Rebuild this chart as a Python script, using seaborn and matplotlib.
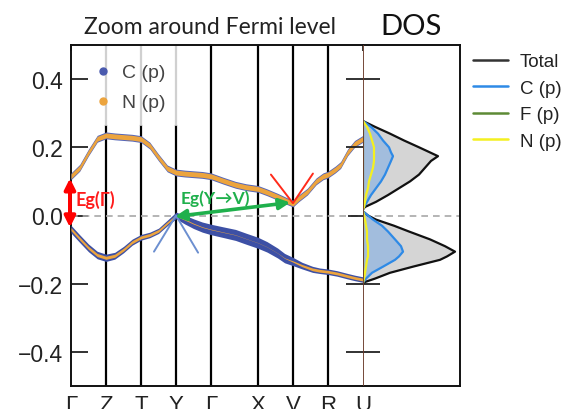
import matplotlib
matplotlib.use("Agg")
import matplotlib.pyplot as plt
import numpy as np
import pandas as pd
import seaborn as sns
from matplotlib.lines import Line2D

sns.set_theme(style="white")
plt.rcParams['font.family'] = ['Liberation Sans', 'DejaVu Sans']

# high-symmetry path
kpath_labels = ["Γ", "Z", "T", "Y", "Γ", "X", "V", "R", "U"]
kpath_pos = [0, 1, 2, 3, 4, 5.34, 6.34, 7.34, 8.34]

# conduction band (eV) and orbital projections
cb_k = [0, 0.25, 0.5, 0.75, 1.0, 1.25, 1.5, 1.75, 2.0, 2.25, 2.5, 2.75, 3.0,
        3.25, 3.5, 3.75, 4.0, 4.35, 4.7, 5.0, 5.34, 5.6, 5.9, 6.15, 6.34,
        6.5, 6.75, 7.0, 7.2, 7.34, 7.55, 7.7, 7.9, 8.1, 8.34]
cb_e = [0.115, 0.14, 0.185, 0.225, 0.235, 0.232, 0.23, 0.228, 0.224, 0.205,
        0.17, 0.138, 0.126, 0.123, 0.121, 0.119, 0.115, 0.102, 0.09, 0.083,
        0.078, 0.068, 0.055, 0.043, 0.035, 0.05, 0.07, 0.1, 0.115, 0.12,
        0.135, 0.148, 0.185, 0.21, 0.225]
cb_c = [0.62] * len(cb_k)
cb_n = [0.44] * len(cb_k)

# valence band (eV) and orbital projections
vb_k = [0, 0.25, 0.5, 0.75, 1.0, 1.25, 1.5, 1.75, 2.0, 2.25, 2.5, 2.75, 3.0,
        3.25, 3.5, 3.75, 4.0, 4.35, 4.7, 5.0, 5.34, 5.6, 5.9, 6.1, 6.34,
        6.6, 6.9, 7.1, 7.34, 7.6, 7.9, 8.1, 8.34]
vb_e = [-0.04, -0.068, -0.095, -0.116, -0.124, -0.118, -0.1, -0.078, -0.064,
        -0.057, -0.045, -0.022, 0.0, -0.012, -0.024, -0.034, -0.041, -0.049,
        -0.057, -0.068, -0.08, -0.092, -0.11, -0.125, -0.135, -0.147, -0.158,
        -0.162, -0.165, -0.17, -0.178, -0.183, -0.188]
vb_c = [0.7, 0.7, 0.7, 0.68, 0.66, 0.62, 0.58, 0.55, 0.52, 0.5, 0.48, 0.5,
        0.6, 0.8, 0.88, 0.92, 0.95, 0.97, 1.0, 1.0, 1.0, 0.95, 0.9, 0.85,
        0.75, 0.6, 0.55, 0.5, 0.5, 0.5, 0.5, 0.5, 0.5]
vb_n = [0.28, 0.28, 0.28, 0.28, 0.28, 0.28, 0.27, 0.27, 0.26, 0.26, 0.25,
        0.22, 0.15, 0.1, 0.08, 0.06, 0.05, 0.04, 0.03, 0.02, 0.02, 0.02,
        0.02, 0.05, 0.12, 0.2, 0.25, 0.25, 0.25, 0.25, 0.25, 0.25, 0.25]

# density of states, lobe above and below the gap
dos_e_up = [0.277, 0.26, 0.24, 0.22, 0.20, 0.185, 0.174, 0.16, 0.14, 0.12,
            0.10, 0.08, 0.06, 0.04, 0.025, 0.018]
dos_tot_up = [0, 12, 27, 41, 56, 67, 75, 68, 62, 56, 47, 36, 25, 13, 2, 0]
dos_c_up = [0, 8, 15, 20, 26, 28, 30, 28, 25, 22, 18, 13, 8, 4, 1, 0]
dos_n_up = [0, 4, 7, 9, 11, 11, 11, 11, 10, 8, 6, 5, 3, 2, 1, 0]
dos_e_dn = [0.012, 0.0, -0.012, -0.03, -0.047, -0.07, -0.09, -0.106, -0.12,
            -0.13, -0.15, -0.168, -0.185, -0.197]
dos_tot_dn = [0, 5, 13, 31, 46, 67, 82, 92, 84, 77, 50, 27, 12, 0]
dos_c_dn = [0, 5, 10, 19, 25, 32, 38, 40, 36, 32, 20, 9, 3, 0]
dos_n_dn = [0, 1, 2, 3, 4, 4, 5, 5, 5, 4, 3, 2, 1, 0]

yticks = [-0.4, -0.2, 0.0, 0.2, 0.4]

C_BLUE = "#4a5aae"
N_ORANGE = "#eca43e"
PX = 1.0 / 341.0  # energy per pixel of the band panel

fig = plt.figure(figsize=(5.69, 4.10), dpi=100)
W, H = 569.0, 410.0
bottom, top = 1 - 387 / H, 1 - 46 / H
ax = fig.add_axes([71 / W, bottom, (363 - 71) / W, top - bottom])
axd = fig.add_axes([363 / W, bottom, (460 - 363) / W, top - bottom])

# --- band structure panel ---
ax.set_xlim(0, kpath_pos[-1])
ax.set_ylim(-0.5, 0.5)
for i, p in enumerate(kpath_pos[1:-1], start=1):
    if kpath_labels[i] in ("Z", "T", "Y"):
        ax.axvline(p, ymin=0, ymax=0.765, color="black", lw=1.6, zorder=1)
        ax.axvline(p, ymin=0.765, ymax=1, color="#d0d0d0", lw=1.6, zorder=1)
    else:
        ax.axvline(p, color="black", lw=1.6, zorder=1)

ax.axhline(0, color="#a8a8a8", ls=(0, (4, 3)), lw=1.2, zorder=1)
axd.axhline(0, color="#a8a8a8", ls=(0, (4, 3)), lw=1.2, zorder=1)


def fat_band(k, e, c, n, outline):
    k = np.asarray(k); e = np.asarray(e)
    wc = np.asarray(c) * 11 * PX / 2
    wn = np.asarray(n) * 11 * PX / 2
    ax.fill_between(k, e - wc, e + wc, color=outline, lw=0, zorder=3)
    ax.fill_between(k, e - wn, e + wn, color=N_ORANGE, lw=0, zorder=4)


fat_band(cb_k, cb_e, cb_c, cb_n, "#5566b8")
fat_band(vb_k, vb_e, vb_c, vb_n, "#3d50a5")

# parabola arms at the band edges
ax.plot([2.37, 3.0, 3.63], [-0.106, 0.0, -0.109], color="#6c8fd0", lw=1.4, zorder=5)
ax.plot([5.71, 6.34, 6.91], [0.12, 0.036, 0.123], color="#ff2a1a", lw=1.4, zorder=5)

# gap arrows
ax.annotate("", xy=(2.97, -0.003), xytext=(6.26, 0.038),
            arrowprops=dict(arrowstyle="<|-|>", color="#1fb04c", lw=2.6,
                            mutation_scale=16, shrinkA=0, shrinkB=0), zorder=6)
ax.annotate("", xy=(-0.03, 0.109), xytext=(-0.03, -0.035), annotation_clip=False,
            arrowprops=dict(arrowstyle="<|-|>", color="#ff0000", lw=2.8,
                            mutation_scale=16, shrinkA=0, shrinkB=0), zorder=6)
ax.text(4.12, 0.052, "Eg(Y→V)", color="#1fb04c", fontsize=12.5, fontweight="bold",
        ha="center", va="center", family=["Lato", "DejaVu Sans"], zorder=7)
ax.text(0.12, 0.05, "Eg(Γ)", color="#ff1a1a", fontsize=13, fontweight="bold",
        ha="left", va="center", family=["Lato", "DejaVu Sans"], zorder=7)

ax.set_yticks(yticks)
ax.set_yticklabels(["%.1f" % v if v >= 0 else "\u2212%.1f" % -v for v in yticks])
ax.tick_params(axis="y", which="major", direction="in", length=12, width=1.3,
               labelsize=16.5, labelcolor="#222222", color="#222222", pad=6,
               left=True, right=False)
ax.set_xticks(kpath_pos)
ax.set_xticklabels(kpath_labels)
ax.tick_params(axis="x", which="major", direction="in", length=4, width=1.3,
               bottom=False, top=True, labelsize=16, labelcolor="#222222", pad=6)
for s in ("left", "top", "bottom"):
    ax.spines[s].set_color("#111111")
    ax.spines[s].set_linewidth(1.4)
ax.spines["right"].set_visible(False)

leg1 = ax.legend(handles=[
    Line2D([], [], ls="", marker="o", markersize=5, color=C_BLUE, label="C (p)"),
    Line2D([], [], ls="", marker="o", markersize=5, color=N_ORANGE, label="N (p)")],
    loc="upper left", bbox_to_anchor=(87 / W, 1 - 57 / H), bbox_transform=fig.transFigure,
    frameon=False, fontsize=14, handlelength=0.8, handletextpad=0.6,
    labelspacing=0.64, borderaxespad=0)
for t in leg1.get_texts():
    t.set_color("#444444")

# --- DOS panel ---
axd.set_xlim(0, 97)
axd.set_ylim(-0.5, 0.5)
for e, tot, c, n in ((dos_e_up, dos_tot_up, dos_c_up, dos_n_up),
                     (dos_e_dn, dos_tot_dn, dos_c_dn, dos_n_dn)):
    axd.fill_betweenx(e, 0, tot, color="#d5d5d5", lw=0, zorder=2)
    axd.fill_betweenx(e, 0, c, color="#a2bddd", lw=0, zorder=3)
    df = pd.DataFrame({"E": e, "Total": tot, "C": c, "N": n, "F": np.zeros(len(e))})
    sns.lineplot(data=df, x="Total", y="E", sort=False, estimator=None, orient="y",
                 color="#111111", lw=1.6, ax=axd, zorder=5)
    sns.lineplot(data=df, x="C", y="E", sort=False, estimator=None, orient="y",
                 color="#2e8ae6", lw=1.6, ax=axd, zorder=6)
    sns.lineplot(data=df, x="N", y="E", sort=False, estimator=None, orient="y",
                 color="#f4f020", lw=1.6, ax=axd, zorder=7)
    sns.lineplot(data=df, x="F", y="E", sort=False, estimator=None, orient="y",
                 color="#5d8a35", lw=1.6, ax=axd, zorder=4)
axd.axvline(0, color="#6a3a2a", lw=1.3, zorder=8)
axd.set_xlabel(""); axd.set_ylabel("")
axd.set_xticks([])
axd.set_yticks([-0.4, -0.2, 0.2, 0.4])
axd.set_yticks([0.0], minor=True)
axd.tick_params(axis="y", which="major", direction="inout", length=24, width=1.3,
                color="#222222", labelleft=False, left=True)
axd.tick_params(axis="y", which="minor", direction="out", length=11, width=1.3,
                color="#222222", left=True)
for s in ("right", "top", "bottom"):
    axd.spines[s].set_color("#111111")
    axd.spines[s].set_linewidth(1.4)
axd.spines["left"].set_visible(False)

leg2 = axd.legend(handles=[
    Line2D([], [], color="#333333", lw=1.8, label="Total"),
    Line2D([], [], color="#2e8ae6", lw=1.8, label="C (p)"),
    Line2D([], [], color="#5d8a35", lw=1.8, label="F (p)"),
    Line2D([], [], color="#f4f020", lw=1.8, label="N (p)")],
    loc="upper left", bbox_to_anchor=(465.5 / W, 1 - 46.5 / H), bbox_transform=fig.transFigure,
    frameon=False, fontsize=13.5, handlelength=1.87, handletextpad=0.64,
    labelspacing=0.5, borderaxespad=0)
for t in leg2.get_texts():
    t.set_color("#222222")

# panel titles
fig.text(210 / W, 1 - 28 / H, "Zoom around Fermi level", ha="center", va="center",
         fontsize=16.5, color="#222222", family=["Lato", "DejaVu Sans"])
fig.text(411 / W, 1 - 27 / H, "DOS", ha="center", va="center",
         fontsize=21, color="#111111", family=["Lato", "DejaVu Sans"])

fig.savefig("out.png", dpi=100)
